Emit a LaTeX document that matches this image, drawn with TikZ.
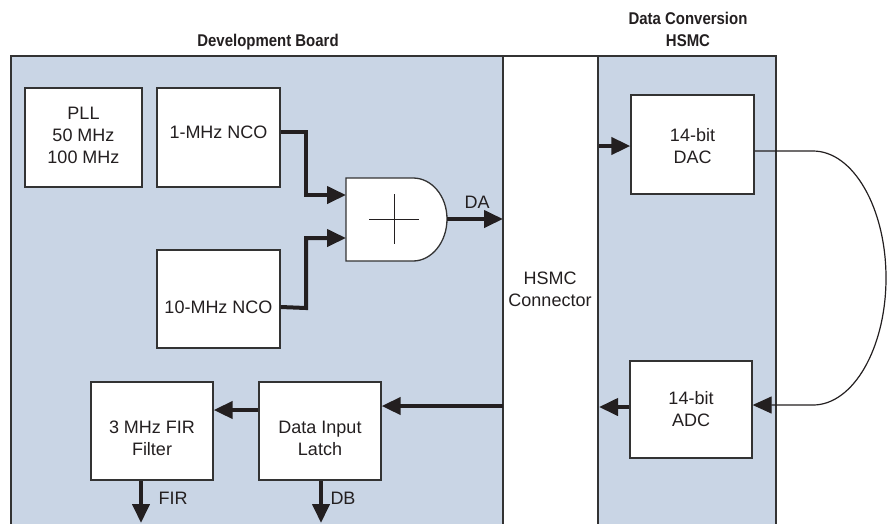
\documentclass[tikz,border=0pt]{standalone}
\usepackage{fontspec}
\setmainfont{Liberation Sans}
\newfontfamily\titlefont{Liberation Sans}[FakeStretch=0.88]
\usetikzlibrary{arrows.meta}
\definecolor{panel}{HTML}{C9D5E5}
\definecolor{edge}{HTML}{333333}
\definecolor{ink}{HTML}{231F20}
\tikzset{
  blk/.style={draw=edge, line width=1.3pt, fill=white, inner sep=0pt},
  txt/.style={text=ink, align=center, inner sep=0pt, font=\fontsize{18}{22}\selectfont},
  ttl/.style={text=ink, align=center, inner sep=0pt, font=\titlefont\bfseries\fontsize{17}{22}\selectfont},
  bus/.style={draw=ink, line width=4pt, -{Triangle[length=19pt,width=17pt]}},
  thin/.style={draw=ink, line width=1.2pt, -{Triangle[length=19pt,width=17pt]}},
}
\begin{document}
\begin{tikzpicture}[x=1pt,y=-1pt]
\useasboundingbox (0,0) rectangle (888,523);
\clip (0,0) rectangle (888,523);
% panels
\fill[panel] (11,56) rectangle (503,540);
\fill[white] (503,56) rectangle (598,540);
\fill[panel] (598,56) rectangle (776,540);
\draw[edge, line width=1.3pt] (11,540) -- (11,56) -- (776,56) -- (776,540);
\draw[edge, line width=1.3pt] (503,56) -- (503,540);
\draw[edge, line width=1.3pt] (598,56) -- (598,540);
% titles
\node[ttl] (tdev) at (268,42) {Development Board};
\node[ttl] (tdc) at (688,29) {Data Conversion\\HSMC};
% blocks
\node[blk, minimum width=117pt, minimum height=99pt] (pll) at (83.5,137.5) {};
\node[txt] (pllt) at (83.5,135) {PLL\\50 MHz\\100 MHz};
\node[blk, minimum width=123pt, minimum height=99pt] (nco1) at (218.5,137.5) {};
\node[txt] (nco1t) at (218.5,132) {1-MHz NCO};
\node[blk, minimum width=123pt, minimum height=98pt] (nco10) at (218.5,299) {};
\node[txt] (nco10t) at (218.5,307) {10-MHz NCO};
\node[blk, minimum width=122pt, minimum height=98pt] (fir) at (152,431) {};
\node[txt] (firt) at (152,438) {3 MHz FIR\\Filter};
\node[blk, minimum width=122pt, minimum height=98pt] (latch) at (320,431) {};
\node[txt] (latcht) at (320,438) {Data Input\\Latch};
\node[blk, minimum width=123pt, minimum height=99pt] (dac) at (692.5,144.5) {};
\node[txt] (dact) at (692.5,146) {14-bit\\DAC};
\node[blk, minimum width=122pt, minimum height=97pt] (adc) at (691,409.5) {};
\node[txt] (adct) at (691,409.5) {14-bit\\ADC};
\node[txt] (hsmc) at (550,289) {HSMC\\Connector};
% adder
\draw[edge, line width=1.3pt, fill=white] (346,178) -- (413,178)
  .. controls (431.8,178) and (447,196.1) .. (447,219)
  .. controls (447,241.9) and (431.8,261) .. (413,261) -- (346,261) -- cycle;
\draw[ink, line width=0.9pt] (369,219) -- (419,219) (394,194) -- (394,244);
\coordinate (addin1) at (346,195);
\coordinate (addin2) at (346,238);
\coordinate (addout) at (447,219);
\coordinate (hsmcin) at (503,219);
\coordinate (hsmcout) at (503,406);
\coordinate (dcin) at (599,146);
\coordinate (dcout) at (599,407);
\coordinate (firend) at (141,523);
\coordinate (dbend) at (321,523);
% connectors
\draw[bus] (nco1.east |- nco1t) -- (306,132) -- (306,195) -- (addin1);
\draw[bus] (nco10.east |- nco10t) -- (306,308) -- (306,238) -- (addin2);
\draw[bus] (addout) -- (hsmcin);
\draw[bus] (dcin) -- (dac.west |- dcin);
\draw[bus] (adc.west |- dcout) -- (dcout);
\draw[bus] (hsmcout) -- (latch.east |- hsmcout);
\draw[bus] (latch.west |- 0,410) -- (fir.east |- 0,410);
\draw[bus] (fir.south -| firend) -- (firend);
\draw[bus] (latch.south -| dbend) -- (dbend);
\draw[thin] (dac.east |- 0,151) -- (813,151)
  .. controls (853.3,151) and (886,208.1) .. (886,278)
  .. controls (886,347.9) and (853.3,405) .. (813,405) -- (adc.east |- 0,405);
% labels
\node[txt] (la) at (477,202) {DA};
\node[txt] (lfir) at (173,498) {FIR};
\node[txt] (ldb) at (343,498) {DB};
\end{tikzpicture}
\end{document}
